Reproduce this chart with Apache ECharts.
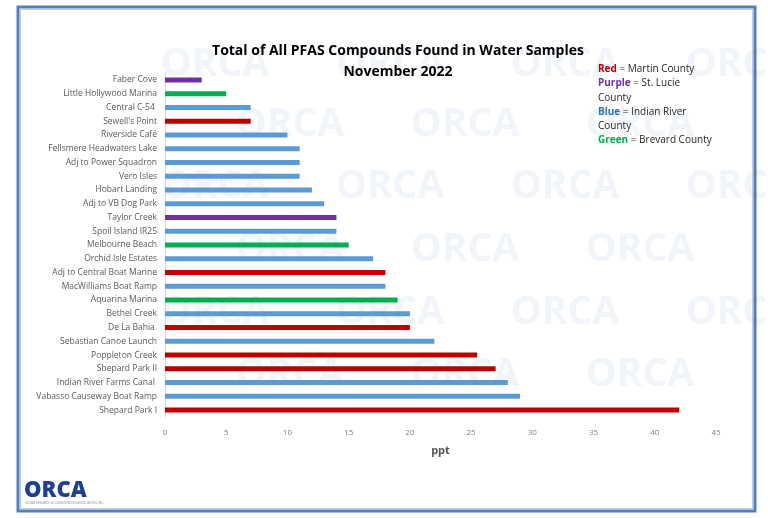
<!DOCTYPE html>
<html><head><meta charset="utf-8">
<script src="https://cdn.jsdelivr.net/npm/echarts@6/dist/echarts.min.js"></script>
<style>html,body{margin:0;padding:0;background:#fff}#c{width:768px;height:518px}</style>
</head><body><div id="c"></div>
<script>
const categories = ["Faber Cove","Little Hollywood Marina","Central C-54 ","Sewell's Point","Riverside Café","Fellsmere Headwaters Lake","Adj to Power Squadron","Vero Isles","Hobart Landing","Adj to VB Dog Park","Taylor Creek","Spoil Island IR25","Melbourne Beach","Orchid Isle Estates","Adj to Central Boat Marine","MacWilliams Boat Ramp","Aquarina Marina","Bethel Creek","De La Bahia ","Sebastian Canoe Launch","Poppleton Creek","Shepard Park II","Indian River Farms Canal ","Vabasso Causeway Boat Ramp","Shepard Park I"];
const values = [3,5,7,7,10,11,11,11,12,13,14,14,15,17,18,18,19,20,20,22,25.5,27,28,29,42];
const counties = ["St. Lucie","Brevard","Indian River","Martin","Indian River","Indian River","Indian River","Indian River","Indian River","Indian River","St. Lucie","Indian River","Brevard","Indian River","Martin","Indian River","Brevard","Indian River","Martin","Indian River","Martin","Martin","Indian River","Indian River","Martin"];
const xTicks = [0,5,10,15,20,25,30,35,40,45];

const countyColor = {"Martin":"#c00000","St. Lucie":"#7030a0","Indian River":"#5b9bd5","Brevard":"#00b050"};
const FONT = "'Open Sans', 'Liberation Sans', sans-serif";

// watermark pattern
const wm = [];
const rowsOdd = [65,187,313], rowsEven = [125,250,375];
rowsOdd.forEach(y => [215,390,565,740].forEach(x => wm.push([x,y])));
rowsEven.forEach(y => [290,465,640].forEach(x => wm.push([x,y])));
const wmGraphics = wm.map(p => ({
  type:'text', x:p[0], y:p[1], z:-10, silent:true,
  style:{text:'ORCA', fill:'#f1f5fa', font:'bold 39px ' + FONT, align:'center', verticalAlign:'middle'}
}));

const chart = echarts.init(document.getElementById('c'), null, {renderer:'canvas'});
chart.setOption({
  backgroundColor:'#ffffff',
  animation:false,
  title:{
    text:'Total of All PFAS Compounds Found in Water Samples\nNovember 2022',
    left:393, top:36, textAlign:'center',
    textStyle:{fontFamily:FONT, fontSize:14, fontWeight:'bold', color:'#000', lineHeight:21}
  },
  grid:{left:165, right:52, top:73, bottom:101, containLabel:false},
  xAxis:{
    type:'value', min:0, max:45, interval:5,
    name:'ppt', nameLocation:'middle', nameGap:28,
    nameTextStyle:{fontFamily:FONT, fontSize:11, fontWeight:'bold', color:'#555'},
    axisLine:{show:false}, axisTick:{show:false}, splitLine:{show:false},
    axisLabel:{fontFamily:FONT, fontSize:8, color:'#808080', margin:12,
      formatter: v => xTicks.includes(v) ? String(v) : ''}
  },
  yAxis:{
    type:'category', data:categories, inverse:true,
    axisLine:{show:true, lineStyle:{color:'#d9d9d9', width:1}},
    axisTick:{show:false},
    axisLabel:{fontFamily:FONT, fontSize:8.5, color:'#595959', margin:8}
  },
  series:[{
    type:'bar', barWidth:5,
    data: values.map((v,i) => ({value:v, itemStyle:{color:countyColor[counties[i]]}}))
  }],
  graphic:[
    ...wmGraphics,
    {type:'rect', z:100, silent:true, shape:{x:18, y:7, width:737, height:504},
      style:{fill:'none', stroke:'#4f7fc0', lineWidth:3}},
    {type:'rect', z:100, silent:true, shape:{x:20.5, y:9.5, width:732, height:499},
      style:{fill:'none', stroke:'#b7cde8', lineWidth:1}},
    {type:'text', z:50, left:598, top:62, silent:true,
      style:{
        text:'{r|Red} = Martin County\n{p|Purple} = St. Lucie\nCounty\n{b|Blue} = Indian River\nCounty\n{g|Green} = Brevard County',
        font:'10px ' + FONT, fill:'#262626', lineHeight:14.3,
        rich:{
          r:{fill:'#c00000', fontWeight:'bold', fontSize:10, fontFamily:FONT},
          p:{fill:'#7030a0', fontWeight:'bold', fontSize:10, fontFamily:FONT},
          b:{fill:'#2e75b6', fontWeight:'bold', fontSize:10, fontFamily:FONT},
          g:{fill:'#00b050', fontWeight:'bold', fontSize:10, fontFamily:FONT}
        }
      }},
    {type:'text', z:50, left:24, top:480, silent:true,
      style:{text:'ORCA', font:'900 22px ' + FONT, fill:'#1f3f93'}},
    {type:'text', z:50, left:25, top:502, silent:true,
      style:{text:'OCEAN RESEARCH & CONSERVATION ASSOCIATION, INC.', font:'3px ' + FONT, fill:'#7a8fb8'}}
  ]
});
</script></body></html>
